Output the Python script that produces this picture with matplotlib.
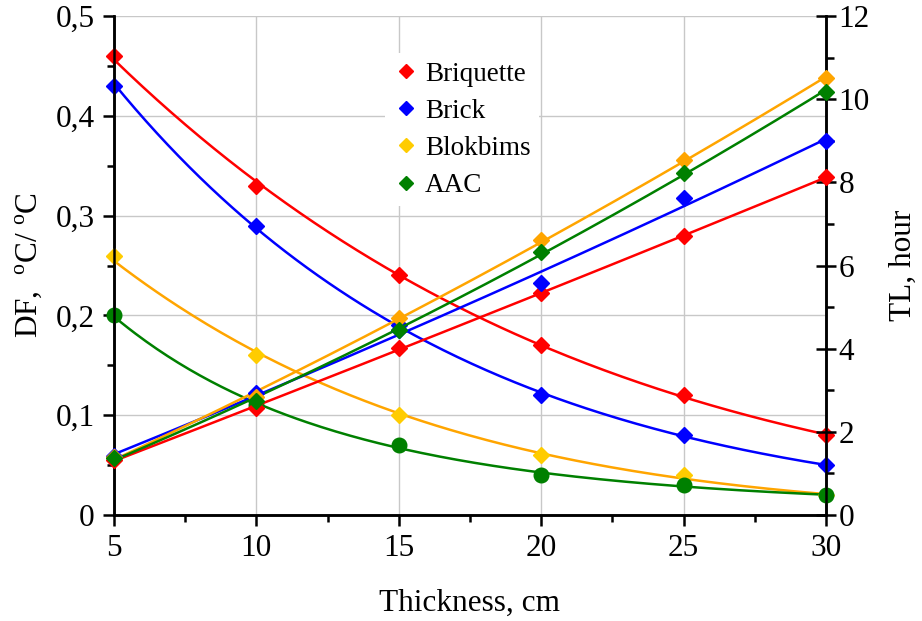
import matplotlib.pyplot as plt
import numpy as np
from matplotlib.lines import Line2D
from matplotlib.ticker import MultipleLocator, FuncFormatter

plt.rcParams['font.family'] = ['Liberation Serif', 'DejaVu Serif']
plt.rcParams['mathtext.fontset'] = 'custom'
plt.rcParams['mathtext.rm'] = 'Liberation Serif'

thickness = [5, 10, 15, 20, 25, 30]
materials = ["Briquette", "Brick", "Blokbims", "AAC"]

# decrement factor, oC/oC
df_briquette = [0.46, 0.33, 0.24, 0.17, 0.12, 0.08]
df_brick = [0.43, 0.29, 0.19, 0.12, 0.08, 0.05]
df_blokbims = [0.26, 0.16, 0.10, 0.06, 0.04, 0.02]
df_aac = [0.20, 0.11, 0.07, 0.04, 0.03, 0.02]

# time lag, hour
tl_briquette = [1.32, 2.57, 4.01, 5.35, 6.71, 8.12]
tl_brick = [1.42, 2.93, 4.45, 5.57, 7.62, 9.0]
tl_blokbims = [1.40, 2.84, 4.73, 6.61, 8.54, 10.5]
tl_aac = [1.38, 2.74, 4.45, 6.33, 8.23, 10.18]

line_colors = ["#ff0000", "#0000ff", "#ffa500", "#008000"]
df_marker_colors = ["#ff0000", "#0000ff", "#ffcc00", "#008000"]
df_markers = ["D", "D", "D", "o"]

df_all = [df_briquette, df_brick, df_blokbims, df_aac]
tl_all = [tl_briquette, tl_brick, tl_blokbims, tl_aac]

fig = plt.figure(figsize=(9.22, 6.21), dpi=100)
ax = fig.add_axes([0.1236, 0.1707, 0.7723, 0.8035])
ax2 = ax.twinx()

x = np.array(thickness, dtype=float)
xs = np.linspace(5, 30, 200)

for i in range(4):
    # smooth trend for DF (quadratic in log space)
    p = np.polyfit(x, np.log(df_all[i]), 2)
    ax.plot(xs, np.exp(np.polyval(p, xs)), color=line_colors[i], lw=1.8, zorder=2)
    ax.plot(x, df_all[i], ls="none", marker=df_markers[i],
            ms=10.5 if df_markers[i] == "o" else 8.5,
            color=df_marker_colors[i], zorder=3, clip_on=False)

    # quadratic trend for TL
    p = np.polyfit(x, tl_all[i], 2)
    ax2.plot(xs, np.polyval(p, xs), color=line_colors[i], lw=1.8, zorder=2)
    ax2.plot(x, tl_all[i], ls="none", marker="D", ms=8.5,
             color=line_colors[i], zorder=3, clip_on=False)

ax.set_xlim(5, 30)
ax.set_ylim(0, 0.5)
ax2.set_ylim(0, 12)

ax.xaxis.set_major_locator(MultipleLocator(5))
ax.xaxis.set_minor_locator(MultipleLocator(2.5))
ax.yaxis.set_major_locator(MultipleLocator(0.1))
ax.yaxis.set_minor_locator(MultipleLocator(0.05))
ax2.yaxis.set_major_locator(MultipleLocator(2))
ax2.yaxis.set_minor_locator(MultipleLocator(1))

ax.yaxis.set_major_formatter(FuncFormatter(lambda v, pos: "0" if abs(v) < 1e-9 else ("%.1f" % v).replace(".", ",")))

ax.grid(True, which="major", color="#c8c8c8", lw=1)
ax.set_axisbelow(True)

for a in (ax, ax2):
    a.spines["top"].set_visible(False)
    for s in a.spines.values():
        s.set_linewidth(1.8)

ax.tick_params(axis="both", which="major", direction="out", length=8, width=1.8, labelsize=22.5, pad=6)
ax.tick_params(axis="both", which="minor", direction="out", length=5, width=1.8)
ax2.tick_params(axis="y", which="major", direction="inout", length=14, width=1.8, labelsize=22.5, pad=2)
ax2.tick_params(axis="y", which="minor", direction="out", length=6, width=1.8)

ax.set_xlabel("Thickness, cm", fontsize=22.5, labelpad=18)
ax.set_ylabel(r"DF,  $^{\rm o}$C/ $^{\rm o}$C", fontsize=22.5, labelpad=8)
ax2.set_ylabel("TL, hour", fontsize=22.5, labelpad=14)

handles = [Line2D([], [], ls="none", marker="D", ms=7, color=c) for c in df_marker_colors]
leg = ax2.legend(handles, materials, loc="upper left", bbox_to_anchor=(0.38, 0.925),
                 fontsize=19.5, frameon=True, framealpha=1, edgecolor="none",
                 fancybox=False, handlelength=1.0, handletextpad=0.2,
                 labelspacing=0.45, borderpad=0.3, borderaxespad=0)
leg.get_frame().set_facecolor("white")

fig.savefig("out.png", dpi=100)
